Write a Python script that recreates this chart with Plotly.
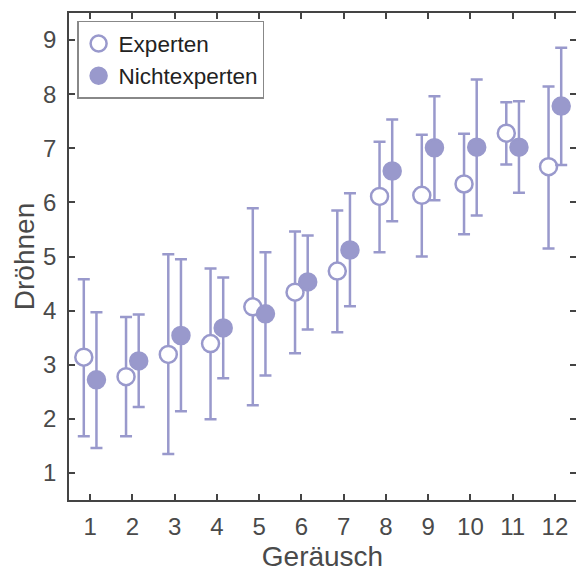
import plotly.graph_objects as go

categories = [1, 2, 3, 4, 5, 6, 7, 8, 9, 10, 11, 12]
exp_mean = [3.14, 2.78, 3.19, 3.39, 4.07, 4.34, 4.73, 6.11, 6.13, 6.34, 7.28, 6.66]
exp_high = [4.58, 3.88, 5.04, 4.78, 5.89, 5.46, 5.85, 7.12, 7.25, 7.27, 7.85, 8.14]
exp_low = [1.68, 1.68, 1.35, 1.99, 2.25, 3.21, 3.60, 5.08, 5.00, 5.41, 6.70, 5.15]
non_mean = [2.72, 3.07, 3.54, 3.68, 3.94, 4.53, 5.12, 6.58, 7.01, 7.02, 7.02, 7.78]
non_high = [3.97, 3.93, 4.95, 4.61, 5.08, 5.39, 6.17, 7.53, 7.96, 8.27, 7.87, 8.86]
non_low = [1.46, 2.22, 2.14, 2.75, 2.80, 3.65, 4.08, 5.65, 6.04, 5.76, 6.18, 6.69]

offset = 0.15
color = "#9999cc"
font_family = "Liberation Sans, Arial, sans-serif"
text_color = "#4a4a4a"

fig = go.Figure()

def add_series(name, means, highs, lows, shift, filled):
    fig.add_trace(go.Scatter(
        x=[c + shift for c in categories],
        y=means,
        mode="markers",
        name=name,
        marker=dict(
            size=17,
            symbol="circle",
            color=color if filled else "white",
            line=dict(color=color, width=2.5),
        ),
        error_y=dict(
            type="data",
            symmetric=False,
            array=[h - m for h, m in zip(highs, means)],
            arrayminus=[m - l for m, l in zip(means, lows)],
            color=color,
            thickness=2.5,
            width=6,
        ),
    ))

add_series("Experten", exp_mean, exp_high, exp_low, -offset, False)
add_series("Nichtexperten", non_mean, non_high, non_low, offset, True)

axis_common = dict(
    showline=True,
    linecolor="#444444",
    linewidth=1.5,
    mirror="ticks",
    ticks="inside",
    ticklen=6,
    tickwidth=1.5,
    tickcolor="#444444",
    showgrid=False,
    zeroline=False,
    automargin=False,
    tickfont=dict(family=font_family, size=24, color=text_color),
)

fig.update_layout(
    width=576,
    height=572,
    margin=dict(l=69, r=0, t=13, b=72),
    paper_bgcolor="white",
    plot_bgcolor="white",
    showlegend=True,
    legend=dict(
        x=0.016, y=0.984, xanchor="left", yanchor="top",
        bgcolor="white",
        bordercolor="#888888",
        borderwidth=1.5,
        font=dict(family=font_family, size=22.5, color="#222222"),
        itemsizing="trace",
        tracegroupgap=0,
        itemwidth=30,
    ),
    xaxis=dict(
        range=[0.5, 12.5],
        tickmode="array",
        tickvals=categories,
        ticktext=[str(c) for c in categories],
        ticklabelstandoff=4,
        title=dict(text="Geräusch", font=dict(family=font_family, size=28, color=text_color), standoff=11),
        **axis_common,
    ),
    yaxis=dict(
        range=[0.5, 9.5],
        tickmode="array",
        tickvals=[1, 2, 3, 4, 5, 6, 7, 8, 9],
        ticklabelstandoff=6,
        title=dict(text="Dröhnen", font=dict(family=font_family, size=28, color=text_color), standoff=0),
        **axis_common,
    ),
)

fig.write_html(
    "out.html",
    config={"displayModeBar": False},
    post_script="document.body.style.margin='0';",
)
